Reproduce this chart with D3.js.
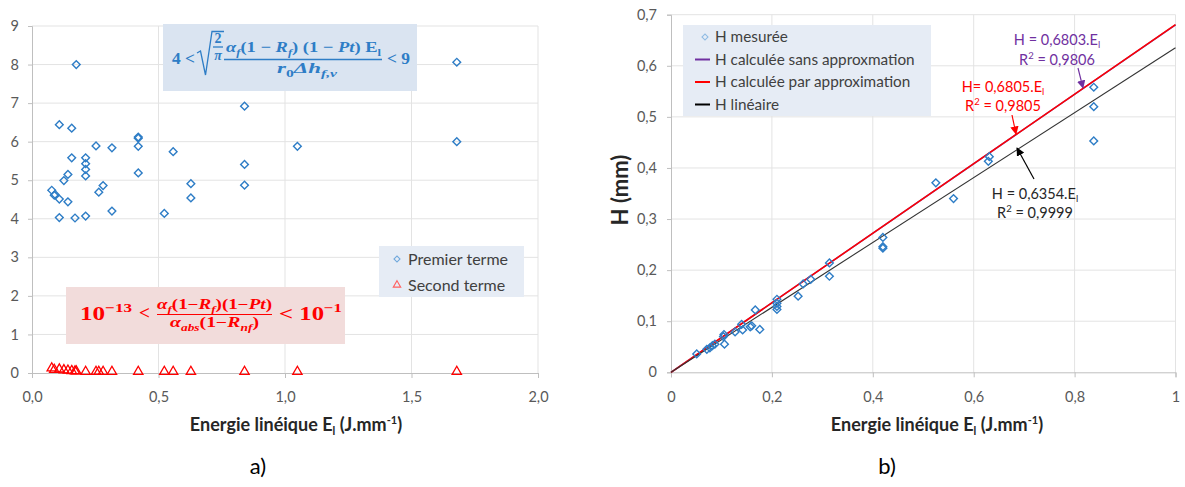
<!DOCTYPE html>
<html>
<head>
<meta charset="utf-8">
<script src="https://cdn.jsdelivr.net/npm/d3@7"></script>
<style>
html,body{margin:0;padding:0;background:#fff;}
svg{display:block;}
</style>
</head>
<body>
<svg id="chart" width="1185" height="487"></svg>
<script>
// ---------------- DATA ----------------
// Left chart (a): Premier terme (diamonds) and Second terme (triangles)
const premierX = [0.078,0.088,0.091,0.108,0.108,0.108,0.126,0.142,0.142,0.157,0.157,0.170,0.175,0.212,0.212,0.212,0.212,0.212,0.253,0.264,0.281,0.316,0.316,0.420,0.420,0.420,0.420,0.523,0.558,0.628,0.628,0.840,0.840,0.840,1.049,1.679,1.679];
const premierY = [4.74,4.61,4.63,6.44,4.51,4.03,4.99,5.15,4.44,6.35,5.58,4.02,8.00,5.58,5.43,5.28,5.11,4.07,5.89,4.69,4.86,5.84,4.20,6.12,6.09,5.88,5.19,4.14,5.74,4.91,4.54,6.92,5.41,4.87,5.88,8.06,6.00];
const secondX = [0.078,0.088,0.108,0.126,0.142,0.157,0.170,0.175,0.212,0.253,0.264,0.281,0.316,0.420,0.523,0.558,0.628,0.840,1.049,1.679];
const secondY = [0.10,0.06,0.07,0.05,0.04,0.03,0.02,0.02,0.01,0.01,0.01,0.01,0.01,0.01,0.01,0.01,0.01,0.01,0.01,0.01];
const leftXTicks = [0, 0.5, 1.0, 1.5, 2.0];
const leftXTickLabels = ["0,0","0,5","1,0","1,5","2,0"];
const leftYTicks = [0,1,2,3,4,5,6,7,8,9];
const leftYTickLabels = ["0","1","2","3","4","5","6","7","8","9"];
const leftSeries = ["Premier terme","Second terme"];

// Right chart (b): H mesurée vs Energie linéique
const mesureeX = [0.051,0.071,0.077,0.082,0.087,0.104,0.105,0.106,0.127,0.140,0.142,0.157,0.160,0.167,0.176,0.210,0.210,0.210,0.210,0.252,0.262,0.277,0.314,0.314,0.420,0.420,0.420,0.525,0.560,0.629,0.631,0.838,0.838,0.838];
const mesureeY = [0.036,0.045,0.048,0.052,0.055,0.070,0.074,0.055,0.079,0.094,0.083,0.089,0.091,0.122,0.084,0.143,0.135,0.129,0.123,0.149,0.173,0.182,0.214,0.188,0.264,0.246,0.243,0.371,0.340,0.413,0.422,0.558,0.520,0.453];
const fitNames = ["H calculée sans approxmation","H calculée par approximation","H linéaire"];
const fitSlopes = [0.6803, 0.6805, 0.6354];
const fitR2 = ["0,9806","0,9805","0,9999"];
const fitSlopeLabels = ["0,6803","0,6805","0,6354"];
const rightXTicks = [0,0.2,0.4,0.6,0.8,1];
const rightXTickLabels = ["0","0,2","0,4","0,6","0,8","1"];
const rightYTicks = [0,0.1,0.2,0.3,0.4,0.5,0.6,0.7];
const rightYTickLabels = ["0","0,1","0,2","0,3","0,4","0,5","0,6","0,7"];

// ---------------- STYLE ----------------
const SANS = "Lato, 'Open Sans', 'Liberation Sans', sans-serif";
const SERIF = "'Liberation Serif', 'DejaVu Serif', serif";
const GRID = "#e3e3e3", AXIS = "#bfbfbf", TICKTXT = "#595959";
const BLUE = "#2e7dc6", RED = "#ff0000", PURPLE = "#7030a0";

const svg = d3.select("#chart");

// math-text helper: parts = [[string, kind]], kind: n, i, sub, isub, sup
function mtext(sel, x, y, parts, o) {
  const t = sel.append("text").attr("x", x).attr("y", y)
    .attr("font-family", SERIF).attr("font-weight", "bold")
    .attr("font-size", o.size).attr("fill", o.color);
  if (o.anchor) t.attr("text-anchor", o.anchor);
  let shift = 0;
  parts.forEach(([s, k]) => {
    const ts = t.append("tspan").text(s);
    const target = (k === "sub" || k === "isub") ? 0.28 * o.size : (k === "sup" ? -0.42 * o.size : 0);
    ts.attr("dy", target - shift);
    shift = target;
    if (k === "sub" || k === "isub" || k === "sup") ts.attr("font-size", o.size * 0.68);
    if (k === "i" || k === "isub") ts.attr("font-style", "italic");
  });
  if (o.len) t.attr("textLength", o.len).attr("lengthAdjust", "spacingAndGlyphs");
  return t;
}

function axisTitle(g, cx, y) {
  const t = g.append("text").attr("x", cx).attr("y", y).attr("text-anchor", "middle")
    .attr("font-family", SANS).attr("font-weight", "bold").attr("font-size", 18).attr("fill", "#262626");
  t.append("tspan").text("Energie linéique E");
  t.append("tspan").text("l").attr("font-size", 11).attr("dy", 4);
  t.append("tspan").text(" (J.mm").attr("dy", -4);
  t.append("tspan").text("-1").attr("font-size", 11).attr("dy", -7);
  t.append("tspan").text(")").attr("dy", 7);
}

// ================= LEFT CHART =================
const xL = d3.scaleLinear().domain([0, 2]).range([32, 538]);
const yL = d3.scaleLinear().domain([0, 9]).range([373, 26]);
const gL = svg.append("g");

gL.append("g").selectAll("line").data(leftYTicks.slice(1)).join("line")
  .attr("x1", xL(0)).attr("x2", xL(2)).attr("y1", d => yL(d)).attr("y2", d => yL(d))
  .attr("stroke", GRID).attr("stroke-width", 1);
gL.append("g").selectAll("line").data(leftXTicks.slice(1)).join("line")
  .attr("x1", d => xL(d)).attr("x2", d => xL(d)).attr("y1", yL(0)).attr("y2", yL(9))
  .attr("stroke", GRID).attr("stroke-width", 1);

const axLx = gL.append("g").attr("transform", `translate(0,${yL(0)})`)
  .call(d3.axisBottom(xL).tickValues(leftXTicks).tickFormat((d,i) => leftXTickLabels[i]).tickSize(5).tickPadding(14));
const axLy = gL.append("g").attr("transform", `translate(${xL(0)},0)`)
  .call(d3.axisLeft(yL).tickValues(leftYTicks).tickFormat((d,i) => leftYTickLabels[i]).tickSize(4).tickPadding(9));
[axLx, axLy].forEach(a => {
  a.select(".domain").attr("stroke", AXIS);
  a.selectAll(".tick line").attr("stroke", AXIS);
  a.selectAll(".tick text").attr("font-family", SANS).attr("font-size", 14.5).attr("fill", TICKTXT);
});

// formula boxes
gL.append("rect").attr("x", 163).attr("y", 24).attr("width", 254).attr("height", 67).attr("fill", "#dae4f1");
gL.append("rect").attr("x", 66).attr("y", 287).attr("width", 279).attr("height", 57).attr("fill", "#f2dcdb");

// blue formula
const fB = gL.append("g");
mtext(fB, 172, 64, [["4 <", "n"]], {size: 16, color: BLUE, len: 23});
fB.append("path").attr("d", "M197,53 L200.5,51 L205.5,75 L212,31.5 L224,31.5")
  .attr("fill", "none").attr("stroke", BLUE).attr("stroke-width", 1.3);
mtext(fB, 218, 43, [["2", "n"]], {size: 14, color: BLUE, anchor: "middle"});
fB.append("line").attr("x1", 213).attr("x2", 223).attr("y1", 47).attr("y2", 47).attr("stroke", BLUE).attr("stroke-width", 1.3);
mtext(fB, 218, 59.5, [["π", "i"]], {size: 14, color: BLUE, anchor: "middle"});
mtext(fB, 226, 52, [["α","i"],["f","isub"],["(1 − ","n"],["R","i"],["f","isub"],[") (1 − ","n"],["Pt","i"],[") E","n"],["l","sub"]], {size: 15, color: BLUE, len: 155});
fB.append("line").attr("x1", 224).attr("x2", 382).attr("y1", 59.5).attr("y2", 59.5).attr("stroke", BLUE).attr("stroke-width", 1.3);
mtext(fB, 277, 73, [["r","i"],["0","sub"],["Δh","i"],["f,v","isub"]], {size: 15, color: BLUE, len: 60});
mtext(fB, 387, 64, [["< 9", "n"]], {size: 16, color: BLUE, len: 23});

// red formula
const fR = gL.append("g");
mtext(fR, 80, 320, [["10","n"],["−13","sup"]], {size: 18, color: RED, len: 52});
mtext(fR, 139, 319, [["<","n"]], {size: 18, color: RED, len: 11});
mtext(fR, 157, 309, [["α","i"],["f","isub"],["(1−","n"],["R","i"],["f","isub"],[")(1−","n"],["Pt","i"],[")","n"]], {size: 14, color: RED, len: 115});
fR.append("line").attr("x1", 157).attr("x2", 272).attr("y1", 314.5).attr("y2", 314.5).attr("stroke", RED).attr("stroke-width", 1.2);
mtext(fR, 170, 327, [["α","i"],["abs","isub"],["(1−","n"],["R","i"],["nf","isub"],[")","n"]], {size: 14, color: RED, len: 89});
mtext(fR, 279, 320, [["<","n"],[" 10","n"],["−1","sup"]], {size: 18, color: RED, len: 63});

// markers
const diamond = d3.symbol().type(d3.symbolSquare).size(30);
const premier = premierX.map((x, i) => ({x, y: premierY[i]}));
const second = secondX.map((x, i) => ({x, y: secondY[i]}));
gL.append("g").selectAll("path").data(premier).join("path")
  .attr("d", diamond)
  .attr("transform", d => `translate(${xL(d.x)},${yL(d.y)}) rotate(45)`)
  .attr("fill", "none").attr("stroke", BLUE).attr("stroke-width", 1.4);
gL.append("g").selectAll("path").data(second).join("path")
  .attr("d", d3.symbol().type(d3.symbolTriangle).size(38))
  .attr("transform", d => `translate(${xL(d.x)},${yL(d.y) - 1})`)
  .attr("fill", "none").attr("stroke", RED).attr("stroke-width", 1.3);

// legend
const lgL = gL.append("g");
lgL.append("rect").attr("x", 379).attr("y", 246).attr("width", 145).attr("height", 51).attr("fill", "#e6ecf5");
lgL.append("path").attr("d", d3.symbol().type(d3.symbolSquare).size(18)).attr("transform", "translate(397,259) rotate(45)")
  .attr("fill", "none").attr("stroke", "#6fa8dc").attr("stroke-width", 1.1);
lgL.append("path").attr("d", d3.symbol().type(d3.symbolTriangle).size(24)).attr("transform", "translate(397,285)")
  .attr("fill", "none").attr("stroke", "#ff6060").attr("stroke-width", 1.1);
lgL.selectAll("text.leg").data(leftSeries).join("text").attr("class", "leg")
  .attr("x", 408).attr("y", (d, i) => 264.5 + i * 26).text(d => d)
  .attr("font-family", SANS).attr("font-size", 16).attr("fill", "#404040");

axisTitle(gL, 296, 431);
gL.append("text").attr("x", 258).attr("y", 474).attr("text-anchor", "middle")
  .attr("font-family", SANS).attr("font-size", 22).attr("fill", "#000").text("a)");

// ================= RIGHT CHART =================
const xR = d3.scaleLinear().domain([0, 1]).range([671, 1175.5]);
const yR = d3.scaleLinear().domain([0, 0.7]).range([372.3, 14.7]);
const gR = svg.append("g");

gR.append("g").selectAll("line").data(rightYTicks.slice(1)).join("line")
  .attr("x1", xR(0)).attr("x2", xR(1)).attr("y1", d => yR(d)).attr("y2", d => yR(d))
  .attr("stroke", GRID).attr("stroke-width", 1);
gR.append("g").selectAll("line").data(rightXTicks.slice(1)).join("line")
  .attr("x1", d => xR(d)).attr("x2", d => xR(d)).attr("y1", yR(0)).attr("y2", yR(0.7))
  .attr("stroke", GRID).attr("stroke-width", 1);

const axRx = gR.append("g").attr("transform", `translate(0,${yR(0)})`)
  .call(d3.axisBottom(xR).tickValues(rightXTicks).tickFormat((d,i) => rightXTickLabels[i]).tickSize(5).tickPadding(14));
const axRy = gR.append("g").attr("transform", `translate(${xR(0)},0)`)
  .call(d3.axisLeft(yR).tickValues(rightYTicks).tickFormat((d,i) => rightYTickLabels[i]).tickSize(4).tickPadding(10));
[axRx, axRy].forEach(a => {
  a.select(".domain").attr("stroke", AXIS);
  a.selectAll(".tick line").attr("stroke", AXIS);
  a.selectAll(".tick text").attr("font-family", SANS).attr("font-size", 14.5).attr("fill", TICKTXT);
});

// fit lines
const fitColors = [PURPLE, RED, "#333333"];
const fits = fitSlopes.map((s, i) => ({s, c: fitColors[i], w: i === 2 ? 1.1 : 1.5}));
gR.append("g").selectAll("line").data(fits).join("line")
  .attr("x1", xR(0)).attr("y1", yR(0)).attr("x2", xR(1)).attr("y2", d => yR(d.s))
  .attr("stroke", d => d.c).attr("stroke-width", d => d.w);

// measured points
const mes = mesureeX.map((x, i) => ({x, y: mesureeY[i]}));
gR.append("g").selectAll("path").data(mes).join("path")
  .attr("d", diamond)
  .attr("transform", d => `translate(${xR(d.x)},${yR(d.y)}) rotate(45)`)
  .attr("fill", "none").attr("stroke", BLUE).attr("stroke-width", 1.4);

// legend
const lgR = gR.append("g");
lgR.append("rect").attr("x", 683).attr("y", 25).attr("width", 248).attr("height", 91).attr("fill", "#e6ecf5");
lgR.append("path").attr("d", d3.symbol().type(d3.symbolSquare).size(18)).attr("transform", "translate(705,37) rotate(45)")
  .attr("fill", "none").attr("stroke", "#8fbbe3").attr("stroke-width", 1.1);
lgR.selectAll("line.leg").data(fitColors).join("line").attr("class", "leg")
  .attr("x1", 695).attr("x2", 710).attr("y1", (d, i) => 59.5 + i * 22.5).attr("y2", (d, i) => 59.5 + i * 22.5)
  .attr("stroke", d => d === "#333333" ? "#000" : d).attr("stroke-width", 2);
lgR.selectAll("text.leg").data(["H mesurée"].concat(fitNames)).join("text").attr("class", "leg")
  .attr("x", 715).attr("y", (d, i) => 42 + i * 22.5).text(d => d)
  .attr("font-family", SANS).attr("font-size", 15.3).attr("fill", "#404040");

// annotations
svg.append("defs").selectAll("marker").data(fitColors).join("marker")
  .attr("id", (d, i) => "arr" + i).attr("viewBox", "0 0 10 10").attr("refX", 9).attr("refY", 5)
  .attr("markerWidth", 7).attr("markerHeight", 7).attr("orient", "auto-start-reverse")
  .append("path").attr("d", "M0,0 L10,5 L0,10 z").attr("fill", d => d === "#333333" ? "#000" : d);

const ann = [
  {cx: 1057, y1: 45, y2: 65, c: PURPLE, eq: "H = ", ax: [1078, 68, 1083, 88], idx: 0},
  {cx: 1003, y1: 92, y2: 111, c: RED, eq: "H= ", ax: [1012, 115, 1016, 134], idx: 1},
  {cx: 1035, y1: 199, y2: 218, c: "#262626", eq: "H = ", ax: [1034, 179, 1017, 148], idx: 2}
];
ann.forEach(a => {
  const t1 = gR.append("text").attr("x", a.cx).attr("y", a.y1).attr("text-anchor", "middle")
    .attr("font-family", SANS).attr("font-size", 14.5).attr("fill", a.c);
  t1.append("tspan").text(a.eq + fitSlopeLabels[a.idx] + ".E");
  t1.append("tspan").text("l").attr("font-size", 9.5).attr("dy", 3);
  const t2 = gR.append("text").attr("x", a.cx).attr("y", a.y2).attr("text-anchor", "middle")
    .attr("font-family", SANS).attr("font-size", 14.5).attr("fill", a.c);
  t2.append("tspan").text("R");
  t2.append("tspan").text("2").attr("font-size", 9.5).attr("dy", -6);
  t2.append("tspan").text(" = " + fitR2[a.idx]).attr("dy", 6);
  gR.append("line").attr("x1", a.ax[0]).attr("y1", a.ax[1]).attr("x2", a.ax[2]).attr("y2", a.ax[3])
    .attr("stroke", a.c === "#262626" ? "#000" : a.c).attr("stroke-width", 1.2)
    .attr("marker-end", `url(#arr${a.idx})`);
});

axisTitle(gR, 937, 431);
gR.append("text").attr("transform", "translate(628,190) rotate(-90)").attr("text-anchor", "middle")
  .attr("font-family", SANS).attr("font-weight", "bold").attr("font-size", 22).attr("fill", "#262626").text("H (mm)");
gR.append("text").attr("x", 887).attr("y", 474).attr("text-anchor", "middle")
  .attr("font-family", SANS).attr("font-size", 22).attr("fill", "#000").text("b)");
</script>
</body>
</html>
